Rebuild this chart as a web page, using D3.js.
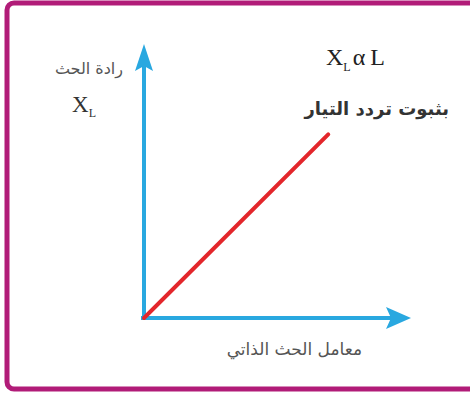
<!DOCTYPE html>
<html>
<head>
<meta charset="utf-8">
<script src="https://cdn.jsdelivr.net/npm/d3@7/dist/d3.min.js"></script>
<style>
  html, body { margin: 0; padding: 0; background: #fff; }
  svg { display: block; }
</style>
</head>
<body>
<svg id="chart" width="470" height="393"></svg>
<script>
// Inductive reactance grows linearly with self-inductance at fixed frequency
const inductance = [0, 6.9];      // L (arbitrary units)
const reactance  = [0, 6.7];      // X_L (arbitrary units)
const axisDomain = [0, 10];
const yTitle = "رادة الحث";
const xTitle = "معامل الحث الذاتي";
const conditionText = "بثبوت تردد التيار";

const svg = d3.select("#chart");

// frame
svg.append("rect")
  .attr("x", 7).attr("y", 3)
  .attr("width", 480).attr("height", 386)
  .attr("rx", 7)
  .attr("fill", "#fff")
  .attr("stroke", "#b11c78")
  .attr("stroke-width", 5);

const origin = { x: 144, y: 318 };
const x = d3.scaleLinear().domain(axisDomain).range([origin.x, 411]);
const y = d3.scaleLinear().domain(axisDomain).range([origin.y, 44]);

const blue = "#29a8e0";
const g = svg.append("g");

// x axis line + arrow
const [x0, x1] = x.range();
g.append("line")
  .attr("x1", x0 - 3).attr("y1", y(0))
  .attr("x2", x1 - 20).attr("y2", y(0))
  .attr("stroke", blue).attr("stroke-width", 4);
g.append("path")
  .attr("d", d3.line()([[x1, y(0)], [x1 - 25, y(0) - 11], [x1 - 20, y(0)], [x1 - 25, y(0) + 11]]) + "Z")
  .attr("fill", blue);

// y axis line + arrow
const [y0, y1] = y.range();
g.append("line")
  .attr("x1", x(0)).attr("y1", y0 + 2)
  .attr("x2", x(0)).attr("y2", y1 + 22)
  .attr("stroke", blue).attr("stroke-width", 4);
g.append("path")
  .attr("d", d3.line()([[x(0), y1], [x(0) - 9, y1 + 27], [x(0), y1 + 22], [x(0) + 9, y1 + 27]]) + "Z")
  .attr("fill", blue);

// proportionality line
const pts = inductance.map((d, i) => [x(d), y(reactance[i])]);
g.append("path")
  .attr("d", d3.line()(pts))
  .attr("fill", "none")
  .attr("stroke", "#e3262b")
  .attr("stroke-width", 4)
  .attr("stroke-linecap", "round");

// titles
const arabicFont = "'DejaVu Sans', sans-serif";
const serif = "'Liberation Serif', 'Times New Roman', serif";

svg.append("text")
  .attr("x", 123).attr("y", 74)
  .attr("text-anchor", "end")
  .attr("font-family", arabicFont)
  .attr("font-size", 16)
  .attr("fill", "#555")
  .text(yTitle);

const xl = svg.append("text")
  .attr("x", 72).attr("y", 112)
  .attr("font-family", serif)
  .attr("font-size", 23)
  .attr("fill", "#333");
xl.append("tspan").text("X");
xl.append("tspan").attr("dy", 5).attr("font-size", 12).text("L");

const prop = svg.append("text")
  .attr("x", 326).attr("y", 65)
  .attr("font-family", serif)
  .attr("font-size", 24)
  .attr("fill", "#222");
prop.append("tspan").text("X");
prop.append("tspan").attr("dy", 6).attr("font-size", 12).text("L");
prop.append("tspan").attr("dy", -6).attr("dx", 2).text("α");
prop.append("tspan").attr("dx", 5).text("L");

svg.append("text")
  .attr("x", 449).attr("y", 115)
  .attr("text-anchor", "end")
  .attr("font-family", arabicFont)
  .attr("font-weight", "bold")
  .attr("font-size", 18)
  .attr("fill", "#333")
  .text(conditionText);

svg.append("text")
  .attr("x", 362).attr("y", 355)
  .attr("text-anchor", "end")
  .attr("font-family", arabicFont)
  .attr("font-size", 17)
  .attr("fill", "#555")
  .text(xTitle);
</script>
</body>
</html>
